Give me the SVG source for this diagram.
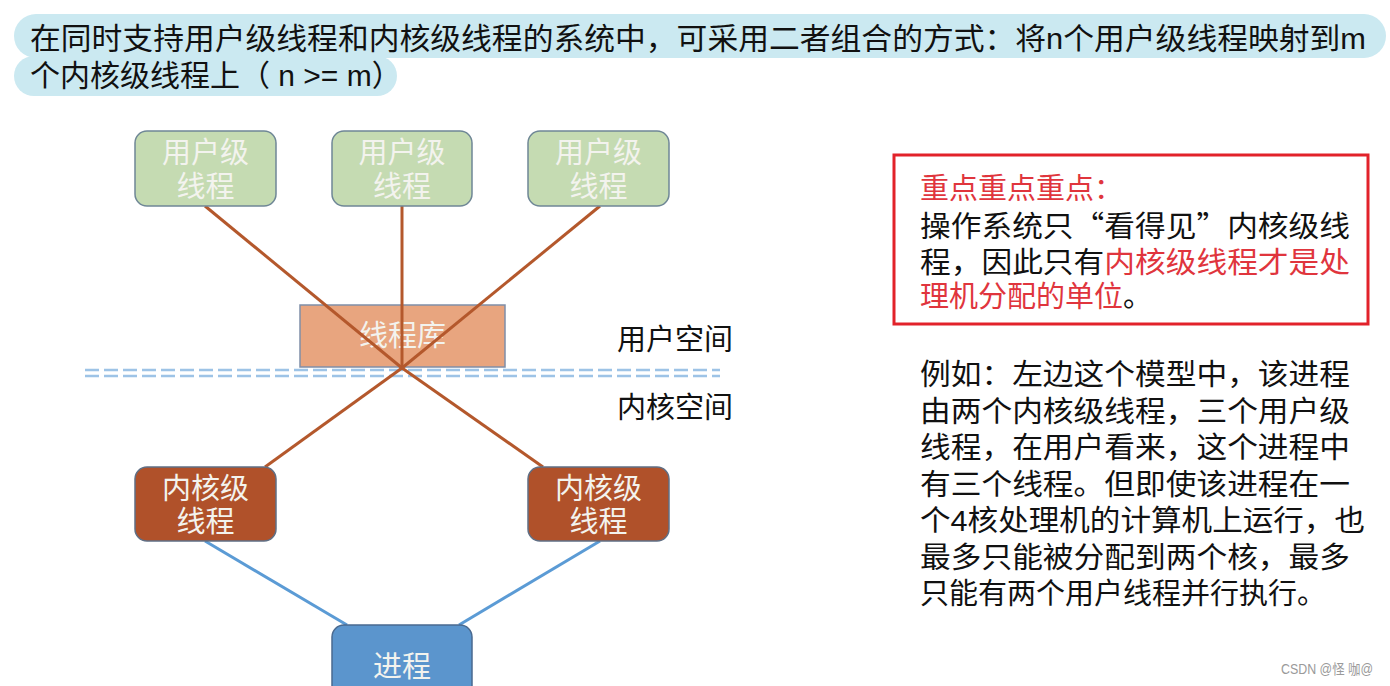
<svg xmlns="http://www.w3.org/2000/svg" width="1390" height="686" viewBox="0 0 1390 686">
<style>
text{font-family:"Liberation Sans","Noto Sans CJK SC",sans-serif;}
.hdr{font-size:30px;fill:#111;}
.nt{font-size:29px;fill:#f3f3ee;text-anchor:middle;}
.side{font-size:29px;fill:#111;}
.para{font-size:29px;fill:#111;}
.cjk{font-family:"Noto Sans CJK SC",sans-serif;}
.red{fill:#e0353d;}
.conn-o{stroke:#b4582c;stroke-width:3;fill:none;}
.conn-b{stroke:#5b9bd5;stroke-width:3;fill:none;}
</style>
<rect width="1390" height="686" fill="#fff"/>
<g id="header">
<rect x="14" y="14" width="1372" height="44" rx="22" fill="#cbe9f1"/>
<rect x="14" y="56" width="383" height="40" rx="20" fill="#cbe9f1"/>
<text class="hdr" x="30" y="49" textLength="1336" lengthAdjust="spacingAndGlyphs">在同时支持用户级线程和内核级线程的系统中，可采用二者组合的方式：将n个用户级线程映射到m</text>
<text class="hdr" x="30" y="86">个内核级线程上（ n &gt;= m）</text>
</g>
<g id="divider">
<line x1="85" y1="370" x2="720" y2="370" stroke="#9dc3e6" stroke-width="2.5" stroke-dasharray="14 5"/>
<line x1="85" y1="376" x2="720" y2="376" stroke="#9dc3e6" stroke-width="2.5" stroke-dasharray="14 5"/>
</g>
<g id="lib">
<rect x="300" y="305" width="205" height="62" fill="#e8a57f" stroke="#7f8ea8" stroke-width="1.5"/>
<text class="nt" x="402.5" y="346">线程库</text>
</g>
<g id="connectors">
<line class="conn-o" x1="205" y1="206" x2="402" y2="368"/>
<line class="conn-o" x1="402" y1="206" x2="402" y2="368"/>
<line class="conn-o" x1="600" y1="206" x2="402" y2="368"/>
<line class="conn-o" x1="402" y1="368" x2="265" y2="467"/>
<line class="conn-o" x1="402" y1="368" x2="543" y2="467"/>
<line class="conn-b" x1="205" y1="541" x2="347" y2="625"/>
<line class="conn-b" x1="600" y1="541" x2="459" y2="625"/>
</g>
<g id="user1">
<rect x="135" y="131" width="141" height="75" rx="12" fill="#c5dbb2" stroke="#6f8796" stroke-width="1.5"/>
<text class="nt" x="205.5" y="163">用户级</text>
<text class="nt" x="205.5" y="197">线程</text>
</g>
<g id="user2">
<rect x="332" y="131" width="140" height="75" rx="12" fill="#c5dbb2" stroke="#6f8796" stroke-width="1.5"/>
<text class="nt" x="402" y="163">用户级</text>
<text class="nt" x="402" y="197">线程</text>
</g>
<g id="user3">
<rect x="528" y="131" width="141" height="75" rx="12" fill="#c5dbb2" stroke="#6f8796" stroke-width="1.5"/>
<text class="nt" x="598.5" y="163">用户级</text>
<text class="nt" x="598.5" y="197">线程</text>
</g>
<g id="kernel1">
<rect x="135" y="467" width="141" height="74" rx="12" fill="#b0512a" stroke="#5f6f85" stroke-width="1.5"/>
<text class="nt" x="205.5" y="499">内核级</text>
<text class="nt" x="205.5" y="532">线程</text>
</g>
<g id="kernel2">
<rect x="528" y="467" width="141" height="74" rx="12" fill="#b0512a" stroke="#5f6f85" stroke-width="1.5"/>
<text class="nt" x="598.5" y="499">内核级</text>
<text class="nt" x="598.5" y="532">线程</text>
</g>
<g id="process">
<rect x="332" y="625" width="140" height="90" rx="12" fill="#5b95cd" stroke="#4a6a90" stroke-width="1.5"/>
<text class="nt" x="402" y="677">进程</text>
</g>
<g id="labels">
<text class="side" x="617" y="350">用户空间</text>
<text class="side" x="617" y="418">内核空间</text>
</g>
<g id="keypoint">
<rect x="894" y="155" width="474" height="169" fill="none" stroke="#e2222a" stroke-width="3"/>
<text class="para red" x="920" y="199">重点重点重点：</text>
<text class="para cjk" x="920" y="237" textLength="430" lengthAdjust="spacingAndGlyphs">操作系统只“看得见”内核级线</text>
<text class="para" x="920" y="273" textLength="430" lengthAdjust="spacingAndGlyphs">程，因此只有<tspan class="red">内核级线程才是处</tspan></text>
<text class="para" x="920" y="307"><tspan class="red">理机分配的单位</tspan>。</text>
</g>
<g id="example">
<text class="para" x="920" y="385" textLength="430" lengthAdjust="spacingAndGlyphs">例如：左边这个模型中，该进程</text>
<text class="para" x="920" y="422" textLength="430" lengthAdjust="spacingAndGlyphs">由两个内核级线程，三个用户级</text>
<text class="para" x="920" y="458" textLength="430" lengthAdjust="spacingAndGlyphs">线程，在用户看来，这个进程中</text>
<text class="para" x="920" y="495" textLength="430" lengthAdjust="spacingAndGlyphs">有三个线程。但即使该进程在一</text>
<text class="para" x="920" y="531" textLength="445" lengthAdjust="spacingAndGlyphs">个4核处理机的计算机上运行，也</text>
<text class="para" x="920" y="568" textLength="430" lengthAdjust="spacingAndGlyphs">最多只能被分配到两个核，最多</text>
<text class="para" x="920" y="604">只能有两个用户线程并行执行。</text>
</g>
<text x="1281" y="674" font-size="14" fill="#9a9a9a" textLength="92" lengthAdjust="spacingAndGlyphs">CSDN @怪 咖@</text>
</svg>
